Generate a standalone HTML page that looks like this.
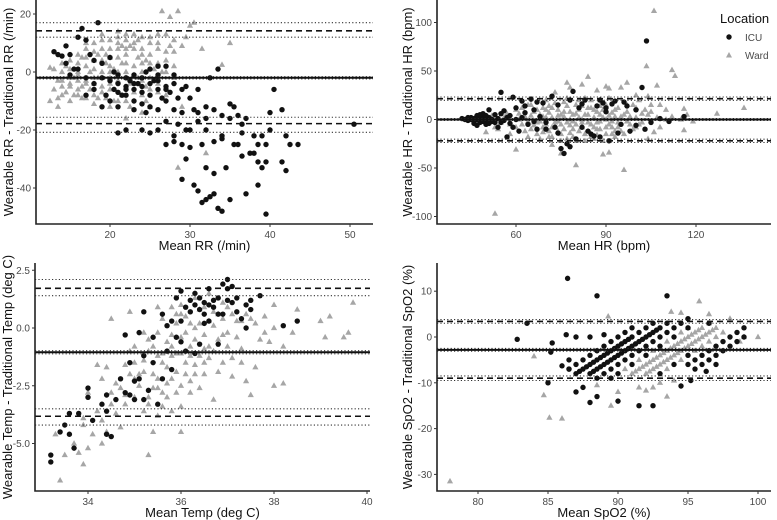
<!DOCTYPE html>
<html><head><meta charset="utf-8"><style>
html,body{margin:0;padding:0;background:#fff}
svg{display:block;font-family:"Liberation Sans",sans-serif}
.tk{font-size:10px;fill:#4a4a4a}
.tt{font-size:13px;fill:#111}
</style></head><body>
<svg id="c" width="777" height="520" viewBox="0 0 777 520"></svg>
<script>
// ---------- RR panel data ----------
const rrWard = [[13,1],[13,-6],[13.5,-9],[13.5,-12],[14,-3],[14,0],[14.5,-7],[14.5,2],[15,-5],[15,-10],[15,1],[15.5,-2],[15.5,-8],[16,3],[16,-6],[16,-1],[16.5,-9],[16.5,5],[17,-3],[17,2],[17,8],[17.5,-6],[17.5,0],[18,4],[18,-8],[18,10],[18.5,-2],[18.5,6],[19,0],[19,-5],[19,8],[19.5,3],[19.5,-9],[20,-2],[20,5],[20,11],[20.5,1],[20.5,-6],[21,8],[21,-3],[21,14],[21.5,3],[21.5,-8],[22,6],[22,0],[22,11],[22.5,-4],[22.5,9],[23,2],[23,-7],[23,13],[23.5,5],[23.5,-2],[24,8],[24,0],[24,12],[24.5,-5],[24.5,4],[25,10],[25,-2],[25,6],[25.5,1],[26,8],[26,-4],[26,13],[26.5,21],[27,4],[27,-8],[27.5,9],[27.5,19],[28,-2],[28,7],[28.5,21],[29,-12],[29,9],[29.5,12],[30,16],[30.5,17],[31.5,8],[32,-28],[28.5,-33],[34,2.5],[35,10],[22,-16],[18,-11],[25,-12],[20,-12],[12.5,-10],[12.5,1.5],[24,-14],[26,-7],[27,13],[16,0],[17,-4],[18,1],[19,4],[20,0],[21,5],[22,3],[23,8],[24,3],[25,3],[19,-2],[20,2],[21,0],[22,-2],[18,-4],[17,5],[16,-3],[15,-2],[14,-5],[23,-1],[24,-3],[21,10],[22,13],[20,8],[19,11],[14,-8],[15,-4],[16,-8],[16,6],[17,-9],[17,10],[18,-2],[18,7],[19,-7],[19,13],[20,-6],[20,-4],[21,-10],[21,12],[22,-10],[22,8],[23,-4],[23,10],[24,-8],[24,6],[25,-6],[25,12],[26,3],[26,10],[27,0],[27,7],[28,2],[28,11],[15,4],[14,3],[13.5,-3],[16.5,-5],[18.5,-9],[20.5,-10],[22.5,-12],[24.5,-10],[26.5,0],[19.5,6],[21.5,9],[23.5,11]];
const rrIcu = [[13,7],[13.5,6],[14,5.5],[14.5,9],[15,6],[15.5,1],[14.5,3],[16,12],[16.5,15],[17,11],[17.5,6],[18,4],[18.5,17],[19,3],[18,-4],[19.5,-8],[20,-10],[20.5,-6],[21,-4],[21,-12],[21.5,-8],[22,-6],[22.5,-3],[23,-1],[22,-2],[23,-10],[23.5,-4],[24,-7],[24,-2],[24.5,0],[25,-4],[25,-12],[25.5,-3],[26,-6],[26,-1],[26.5,-9],[27,-5],[27,2],[27.5,-7],[28,-1],[28,-4],[28.5,-9],[29,-6],[29,-14],[29.5,-5],[30,-9],[31,-6],[31,-14],[32,-12],[32.5,-2],[33.5,1],[30,-20],[29,-25],[29.5,-30],[28,-22],[27,-17],[27,-25],[26,-20],[25,-21],[24,-20],[22,-20],[21,-21],[29,-37],[30.5,-39],[31,-41],[31.5,-45],[32,-44],[32.5,-43],[33,-42],[32,-33],[33,-35],[33.5,-47],[34,-48],[33,-24],[34,-23],[34,-15],[35,-11],[35,-16],[35.5,-25],[35,-44],[34.5,-33],[36,-15],[36,-25],[36.5,-29],[36.5,-21],[37,-16],[37,-42],[38,-22],[38,-28],[38.5,-25],[38.5,-31],[38.5,-39],[39,-33],[39,-22],[39.5,-25],[39.5,-31],[39.5,-49],[40,-20],[40,-14],[40.5,-6],[41.5,-31],[41.5,-13],[42,-22],[42,-34],[42.5,-25],[43.5,-25],[50.5,-18],[30,-26],[31,-17],[31.5,-25],[32,-16],[32,-20],[30.5,-13],[29.5,-20],[28.5,-18],[28,-24],[33,-13],[34,-22],[35.5,-12],[36.5,-18],[37.5,-28],[16,1],[17,-2],[18,-6],[19,-2],[20,-3],[21,-1],[22,-8],[23,-4],[24,-11],[25,1],[26,2],[27,-10],[15,-1],[17,-8],[19,-12],[20.5,0],[23,-13],[24.5,-14],[26,-13],[28,-13],[20,5],[21,-7],[22,-5],[23,-6],[24,-5],[25,-8],[26,-3],[27,-6]];
const rrLimits = [-2, 14.2, -17.8];
const rrCI = [[-2.4,-1.6],[12,17],[-20.8,-15.6]];
const rrXTicks = [20,30,40,50];
const rrYTicks = [20,0,-20,-40];

// ---------- HR panel data ----------
const hrWard = [[53,-97],[106,112],[103.5,55],[112,51],[113,45],[107,35],[97,38],[77,38],[84,44],[78,33],[82,36],[87,30],[88,20],[90,34],[91,32],[95,33],[100,25],[101,20],[104,24],[110,10],[116,11],[117,5],[119,-2],[127,6],[136,12],[104,5],[106,-13],[108,-8],[116,-11],[100,-8],[96,-52],[80,-47],[89,-36],[91,-34],[75,-35],[72,-26],[68,-20],[60,-31],[58,-15],[50,-13],[53,-8],[55,-3],[52,4],[57,6],[60,10],[62,-5],[63,3],[64,15],[65,-10],[66,8],[67,-15],[68,5],[69,12],[70,-5],[70,20],[71,-12],[72,2],[73,28],[73,-8],[74,10],[75,-15],[75,5],[76,18],[77,-3],[77,-20],[78,8],[79,-10],[80,15],[80,-22],[81,2],[82,-8],[83,22],[83,-15],[84,5],[85,-5],[85,12],[86,-20],[87,8],[88,-10],[89,2],[90,15],[90,-15],[91,-5],[92,7],[93,-12],[94,12],[94,-3],[95,3],[96,-15],[97,8],[98,-5],[99,15],[100,2],[102,-3],[103,10],[105,8],[107,2],[110,0],[112,3],[115,0],[66,-3],[69,-8],[72,-18],[74,-2],[76,3],[79,-2],[81,10],[84,-12],[86,2],[88,5],[92,-2],[61,0],[64,-2],[71,7],[78,-6],[82,0],[87,-3],[93,3],[97,-2],[60,-8],[61,6],[62,12],[63,-12],[64,-18],[65,4],[66,-6],[67,10],[68,-2],[69,3],[70,10],[71,-18],[72,12],[73,-3],[74,-12],[75,-5],[76,8],[77,14],[78,-14],[79,5],[80,-5],[81,-12],[82,14],[83,5],[84,-3],[85,-18],[86,10],[87,-10],[88,-2],[89,10],[90,-8],[91,4],[92,-15],[93,10],[94,-8],[95,-12],[96,5],[97,15],[98,3],[99,-10],[100,12],[101,-5],[102,6],[70,2],[72,-8],[74,4],[76,-10],[78,0],[80,6],[82,-3],[84,12],[86,-8],[88,14],[90,0],[92,-8],[65,15],[67,-3],[69,-13],[71,14],[73,17],[75,-22],[77,22],[79,-18],[81,20],[83,-22],[85,20],[87,-16],[89,-22],[91,22],[93,-18],[58,-5],[56,2],[54,-10],[105,15],[108,15],[104,-20]];
const hrIcu = [[42,1],[43,0],[44,-1],[45,2],[46,-2],[47,4],[47,-6],[48,1],[48,-3],[49,3],[49,6],[50,0],[50,-5],[51,10],[51,2],[52,-2],[53,5],[54,1],[54,-8],[55,28],[55,-3],[56,9],[57,-18],[58,4],[59,23],[60,12],[61,-12],[62,19],[63,7],[64,-5],[65,21],[66,10],[67,-10],[68,3],[69,17],[70,-3],[72,24],[73,-8],[74,15],[75,-30],[76,-35],[77,-25],[78,-28],[79,29],[80,-20],[81,12],[82,-8],[83,20],[85,-15],[87,14],[88,-18],[89,17],[90,8],[91,-22],[93,19],[95,-5],[97,14],[100,10],[102,33],[103,-10],[103.5,81],[105,-3],[108,1],[111,-2],[116,3],[45,0],[46,1],[48,-1],[50,2],[52,0],[56,-1],[58,-4],[60,0],[62,2],[66,-2],[44,2],[46,-4],[47,0],[48,5],[49,-2],[50,4],[51,-4],[53,-3],[55,6],[57,2],[59,-8],[63,14],[67,18],[70,-10],[74,-14],[78,20],[82,16],[84,-12],[86,-17],[88,20],[90,12],[92,16],[94,-14],[96,18],[98,-12],[100,-6]];
const hrLimits = [0, 21.5, -22];
const hrCI = [[-1,1],[19.8,23.2],[-23.7,-20.3]];
const hrXTicks = [60,90,120];
const hrYTicks = [100,50,0,-50,-100];

// ---------- Temp panel data ----------
const tpWard = [[33.4,-6.6],[33.5,-5.5],[33.3,-4.6],[33.7,-5],[33.8,-5.4],[33.9,-5.9],[33.9,-4.2],[34,-5.2],[33.9,-3.9],[34.1,-4.6],[34.2,-3.6],[34.3,-5],[34.4,-4.5],[34,-2.8],[34.2,-1.6],[34.3,-2.2],[34.4,-1.7],[34.5,-2.8],[34.6,-3.7],[34.7,-4.3],[34.8,-3.3],[34.5,0.4],[34.9,0.7],[34.9,-2],[35,-1.5],[35,-3],[35.1,-2.5],[35.2,-3.6],[35.3,-1],[35.3,-5.5],[35.4,-4.5],[35.4,-2],[35.5,-1.2],[35.5,-0.2],[35.6,-2.8],[35.6,0.4],[35.7,-1.7],[35.7,-0.6],[35.8,0.9],[35.8,-2.2],[35.9,-1.1],[35.9,0.2],[36,-3.4],[36,-0.4],[36,1],[36.1,-1.5],[36.1,0.5],[36.2,-2.3],[36.2,-0.8],[36.3,1.3],[36.3,0],[36.4,-1.2],[36.4,0.8],[36.5,-0.3],[36.5,-2],[36.6,1.5],[36.6,0.3],[36.7,-1],[36.7,-3.1],[36.8,0.6],[36.8,-0.5],[36.9,-1.5],[37,0.9],[37,-0.2],[37.1,-2.1],[37.2,0.3],[37.3,-0.9],[37.4,-2.3],[37.5,0.4],[37.6,-1.7],[37.7,-0.5],[37.8,0.5],[37.9,-0.6],[38,1],[38,0],[38.2,-0.8],[38.2,-2.4],[38,-2.5],[37.5,-2.9],[38.4,-0.2],[38.5,0.8],[39,0.3],[39.1,-0.4],[39.2,0.5],[39.5,-0.4],[39.6,-0.2],[39.7,1.1],[36,-4.5],[35.2,-0.2],[34.9,-1],[35.3,-3],[35.6,-3.4],[35.8,-3.6],[35.1,-2],[35.4,-0.8],[35.5,-2.6],[35.7,-3],[36,-2.5],[36.3,-2],[36.5,-1.5],[36.9,-0.3],[37.1,0.6],[36.2,-1.2],[36.4,0.2],[36.6,-0.8],[35.9,-1.9],[34.6,-2.4],[34.8,-2.9],[35,-0.8],[35.6,-1.1],[36.1,-0.2],[36.7,0.1],[37.3,0.3],[35.8,-0.3],[36.3,-0.5],[35,-2.2],[35.2,-1.4],[35.3,-3.3],[35.4,-2.6],[35.5,-3.8],[35.6,-1.5],[35.7,-2.4],[35.8,-1.2],[35.9,-2.8],[36,-1.1],[36.1,-2],[36.2,0.2],[36.3,-1.6],[36.4,-2.6],[36.5,0.9],[36.6,-1.3],[36.7,0.7],[36.8,-1.9],[36.9,0.4],[37,-0.8],[37.1,-1.3],[37.2,-0.4],[37.3,-1.5],[37.4,0.6],[37.6,0.2],[37.8,-0.2],[35.5,0.9],[35.2,-1.9],[34.8,-1.6],[34.7,-2.6],[34.5,-3.3],[34.3,-4],[35.8,-0.8],[36,0.6],[36.5,-0.9],[36.9,1.1],[35.3,-0.5],[35.9,0.6],[36.2,-2.8],[35.5,-2.2]];
const tpIcu = [[33.2,-5.5],[33.2,-5.8],[33.4,-4.5],[33.5,-4.2],[33.6,-4.6],[33.6,-3.7],[33.8,-3.7],[33.7,-5.2],[34,-3],[34,-2.6],[34.1,-4],[34.3,-3.3],[34.4,-3.6],[34.4,-4.6],[34.5,-4.7],[34.4,-2.9],[34.6,-3.1],[34.7,-2.2],[34.8,-2.8],[34.9,-2.9],[35,-2.3],[35.1,-2.2],[34.9,-1.5],[35.2,-3.1],[35.5,-3.3],[35,-3.1],[35.3,-2.7],[34.8,-0.3],[35.1,-0.2],[35.2,-1.2],[35.4,-1.5],[35.6,-2.2],[35.8,-1.8],[35.2,0.7],[35.6,0.6],[35.9,1.3],[36,1.6],[36,0.3],[36.2,1.2],[36.3,1.5],[36.4,0.8],[36.5,1.1],[36.6,1.7],[36.7,1.2],[36.8,0.6],[36.9,1.9],[37,2.1],[37,1.7],[37.1,1.8],[37.2,1.3],[37.3,0.4],[37.4,1],[37.5,0.8],[37.5,1.2],[37.7,1.4],[37.4,0],[36.5,0.2],[36.2,0.7],[35.9,-0.4],[36.1,-1],[36.4,-0.7],[35.7,-1],[35.8,0.3],[36.6,0.3],[37,1.2],[38.2,0.1],[38.5,0.3],[36.3,-1.1],[36.8,-0.7],[35.4,-0.4],[36.1,0.9],[36.3,1],[36.5,0.6],[36.7,0.9],[36.9,0.6],[37.1,1.1],[36.4,1.3],[36.6,1.0],[36.8,1.3],[37.2,0.7],[35.7,0.1],[36,-0.6]];
const tpLimits = [-1.05, 1.72, -3.82];
const tpCI = [[-1.12,-0.98],[1.4,2.1],[-4.2,-3.5]];
const tpXTicks = [34,36,38,40];
const tpYTicks = [2.5,0,-2.5,-5];
const tpYLabels = ["2.5","0.0","-2.5","-5.0"];

// ---------- SpO2 panel data ----------
const spWard = [[91,-8],[91.5,-7],[92,-6],[92.5,-5],[93,-4],[93.5,-3],[94,-2],[94.5,-1],[95,0],[95.5,1],[96,2],[96.5,3],[92,-8],[92.5,-7],[93,-6],[93.5,-5],[94,-4],[94.5,-3],[95,-2],[95.5,-1],[96,0],[96.5,1],[97,2],[93.5,-7],[94.5,-5],[95.5,-3],[96,-2],[96.5,-1],[97,0],[97.5,1],[90.5,-7],[91.5,-5],[92.5,-3],[93.5,-1],[94.5,1],[95,2],[78,-31.5],[84,-4.2],[84.7,-12.7],[85.1,-17.6],[86,-17.8],[88.5,-10.5],[89.3,4.5],[89.5,-15],[90,-12],[91.5,-11],[92,-11.7],[92.5,-11],[93.5,-13],[93.8,5.5],[94.5,5.3],[95.8,7.8],[96.5,5],[98,4],[99,0],[100,0],[98.7,-1],[93,-10],[94,-9.5],[91.25,-7.5],[91.75,-6.5],[92.25,-5.5],[92.75,-4.5],[93.25,-3.5],[93.75,-2.5],[94.25,-1.5],[94.75,-0.5],[95.25,0.5],[95.75,1.5],[92.25,-7.5],[92.75,-6.5],[93.25,-5.5],[93.75,-4.5],[94.25,-3.5],[94.75,-2.5],[95.25,-1.5],[95.75,-0.5],[96.25,0.5],[96.75,1.5]];
const spIcu = [[82.8,-0.5],[83.5,3],[85.3,-1.3],[85.2,-3.3],[85,-10],[86,-6.3],[86.3,0.5],[86.4,12.8],[86.5,-5],[86.5,-7],[87,-12],[87,0],[87.5,-11],[88,-14.3],[88,0],[88.5,9],[88.5,-13],[89,0.5],[90,-14],[91.5,-15],[92.5,-15],[93.5,9],[95,4],[94.5,-10.7],[95.2,-9.5],[96.5,3],[96.3,-7.5],[97,-6],[86.5,-7],[87,-6],[87.5,-5],[88,-4],[88.5,-3],[89,-2],[89.5,-1],[90,0],[90.5,1],[91,2],[87,-8],[87.5,-7],[88,-6],[88.5,-5],[89,-4],[89.5,-3],[90,-2],[90.5,-1],[91,0],[91.5,1],[92,2],[92.5,3],[88,-8],[88.5,-7],[89,-6],[89.5,-5],[90,-4],[90.5,-3],[91,-2],[91.5,-1],[92,0],[92.5,1],[93,2],[93.5,3],[88.5,-9],[89,-8],[89.5,-7],[90,-6],[90.5,-5],[91,-4],[91.5,-3],[92,-2],[92.5,-1],[93,0],[93.5,1],[94,2],[94.5,3],[89.5,-9],[90,-8],[91,-6],[92,-4],[93,-2],[94,0],[95,2],[95,-6],[95.5,-5],[96,-4],[96.5,-3],[97,-2],[97.5,-1],[98,0],[98.5,1],[99,2],[95.5,-7],[96,-6],[96.5,-5],[97,-4],[97.5,-3],[98,-2],[98.5,-1],[99,0],[93,-8],[94,-6],[95,-4],[87.25,-7.5],[87.75,-6.5],[88.25,-5.5],[88.75,-4.5],[89.25,-3.5],[89.75,-2.5],[90.25,-1.5],[90.75,-0.5],[88.25,-7.5],[88.75,-6.5],[89.25,-5.5],[89.75,-4.5],[90.25,-3.5],[90.75,-2.5],[91.25,-1.5],[91.75,-0.5],[92.25,0.5],[92.75,1.5]];
const spLimits = [-2.8, 3.4, -9.0];
const spCI = [[-3.1,-2.5],[3.0,3.8],[-9.5,-8.5]];
const spXTicks = [80,85,90,95,100];
const spYTicks = [10,0,-10,-20,-30];

// ---------- drawing ----------
const NS = "http://www.w3.org/2000/svg";
const svg = document.getElementById('c');
function mk(tag, attrs, parent){const e=document.createElementNS(NS,tag);for(const k in attrs)e.setAttribute(k,attrs[k]);(parent||svg).appendChild(e);return e;}

function panel(cfg){
  const g = mk('g',{});
  
  
  const sx = v => cfg.x0 + (v - cfg.xv0) * cfg.kx;
  const sy = v => cfg.y0 - (v - cfg.yv0) * cfg.ky;
  cfg.ward.forEach(p => {
    const x = sx(p[0]), y = sy(p[1]);
    const t = mk('polygon',{points:`${x},${y-3.4} ${x-3.1},${y+2.1} ${x+3.1},${y+2.1}`, fill:'#a6a6a6'}, g);
    
    
  });
  cfg.icu.forEach(p => {
    const c = mk('circle',{cx:sx(p[0]), cy:sy(p[1]), r:2.7, fill:'#111'}, g);
    
    
  });
  const L = cfg.limits, CI = cfg.ci;
  CI.forEach(pair => pair.forEach(v => {
    const l = mk('line',{x1:cfg.left, x2:cfg.right, y1:sy(v), y2:sy(v), stroke:'#333', 'stroke-width':1.1, 'stroke-dasharray':'1.2,2.2'}, g);
    
    
  }));
  [L[1], L[2]].forEach(v => {
    const l = mk('line',{x1:cfg.left, x2:cfg.right, y1:sy(v), y2:sy(v), stroke:'#111', 'stroke-width':1.6, 'stroke-dasharray':'6,4'}, g);
    
    
  });
  const m = mk('line',{x1:cfg.left, x2:cfg.right, y1:sy(L[0]), y2:sy(L[0]), stroke:'#111', 'stroke-width':2}, g);
  
  
  const ax = mk('path',{d:`M${cfg.left},${cfg.top} V${cfg.bottom} H${cfg.right}`, fill:'none', stroke:'#222', 'stroke-width':1.6}, g);
  
  
  cfg.xt.forEach(v => {
    mk('line',{x1:sx(v),x2:sx(v),y1:cfg.bottom,y2:cfg.bottom+3,stroke:'#333','stroke-width':1},g);
    const t = mk('text',{x:sx(v), y:cfg.bottom+14, 'text-anchor':'middle', class:'tk'}, g);
    t.textContent = v;
    
    
  });
  cfg.yt.forEach((v,i) => {
    mk('line',{x1:cfg.left-3,x2:cfg.left,y1:sy(v),y2:sy(v),stroke:'#333','stroke-width':1},g);
    const t = mk('text',{x:cfg.left-5, y:sy(v)+3.5, 'text-anchor':'end', class:'tk'}, g);
    t.textContent = cfg.yl ? cfg.yl[i] : v;
    
    
  });
  const xt = mk('text',{x:(cfg.left+cfg.right)/2, y:cfg.bottom+26, 'text-anchor':'middle', class:'tt'}, g);
  xt.textContent = cfg.xtitle;
  
  
  const cy = (cfg.top+cfg.bottom)/2;
  const yt = mk('text',{x:cfg.ytx, y:cy, 'text-anchor':'middle', class:'tt', transform:`rotate(-90 ${cfg.ytx} ${cy})`}, g);
  yt.textContent = cfg.ytitle;
  
  
}

panel({name:'rr-panel', ward:rrWard, icu:rrIcu, limits:rrLimits, ci:rrCI, xt:rrXTicks, yt:rrYTicks,
  x0:110, xv0:20, kx:8, y0:72, yv0:0, ky:2.9, left:36, right:373, top:0, bottom:224,
  xtitle:'Mean RR (/min)', ytitle:'Wearable RR - Traditional RR (/min)', ytx:13});
panel({name:'hr-panel', ward:hrWard, icu:hrIcu, limits:hrLimits, ci:hrCI, xt:hrXTicks, yt:hrYTicks,
  x0:516, xv0:60, kx:3.0, y0:119.5, yv0:0, ky:0.97, left:437, right:771, top:0, bottom:224,
  xtitle:'Mean HR (bpm)', ytitle:'Wearable HR - Traditional HR (bpm)', ytx:412});
panel({name:'temp-panel', ward:tpWard, icu:tpIcu, limits:tpLimits, ci:tpCI, xt:tpXTicks, yt:tpYTicks, yl:tpYLabels,
  x0:88, xv0:34, kx:46.5, y0:328, yv0:0, ky:23.1, left:35, right:370, top:263, bottom:491,
  xtitle:'Mean Temp (deg C)', ytitle:'Wearable Temp - Traditional Temp (deg C)', ytx:12});
panel({name:'spo2-panel', ward:spWard, icu:spIcu, limits:spLimits, ci:spCI, xt:spXTicks, yt:spYTicks,
  x0:478, xv0:80, kx:14.0, y0:337, yv0:0, ky:4.58, left:437, right:771, top:263, bottom:491,
  xtitle:'Mean SpO2 (%)', ytitle:'Wearable SpO2 - Traditional SpO2 (%)', ytx:412});

const lg = mk('g',{});


const lt = mk('text',{x:720, y:23, class:'tt', 'font-size':'13'}, lg); lt.textContent='Location';
const li = mk('circle',{cx:729, cy:37, r:2.7, fill:'#111'}, lg);


const lit = mk('text',{x:745, y:41, class:'tk', 'font-size':'11', fill:'#222'}, lg); lit.textContent='ICU';


const lw = mk('polygon',{points:'729,52 726,57.5 732,57.5', fill:'#a6a6a6'}, lg);


const lwt = mk('text',{x:745, y:59, class:'tk', 'font-size':'11', fill:'#222'}, lg); lwt.textContent='Ward';


</script>
</body></html>
